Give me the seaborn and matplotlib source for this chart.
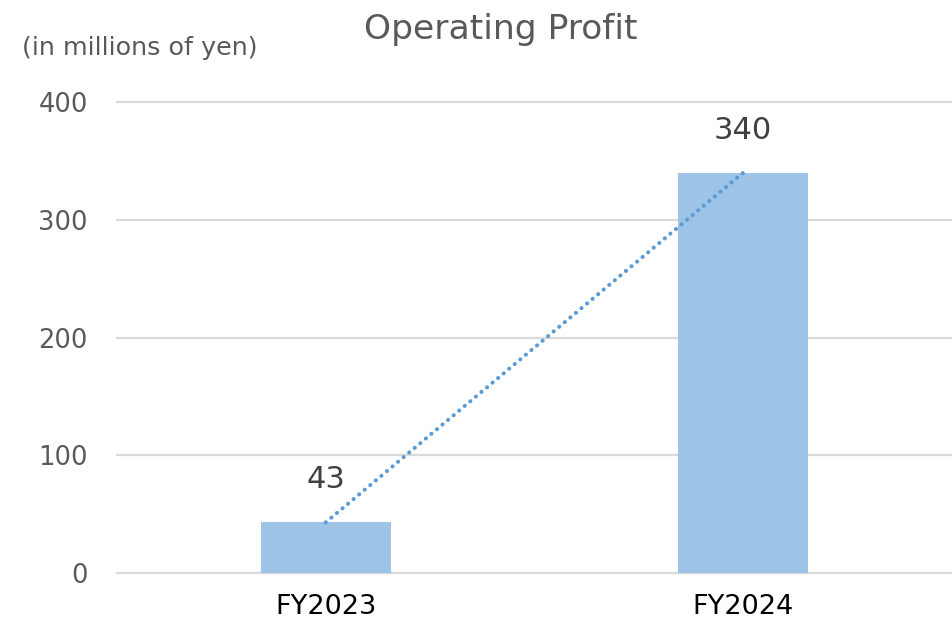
import matplotlib
matplotlib.use("Agg")
import matplotlib.pyplot as plt
import seaborn as sns
import pandas as pd

categories = ["FY2023", "FY2024"]
values = [43, 340]
yticks = [0, 100, 200, 300, 400]
title = "Operating Profit"
unit_label = "(in millions of yen)"

sns.set_theme(style="white")
plt.rcParams['font.family'] = ['DejaVu Sans']

df = pd.DataFrame({"cat": categories, "val": values})

W, H = 952, 618
fig = plt.figure(figsize=(W / 100, H / 100), dpi=100)
ax = fig.add_axes([117 / W, (H - 573) / H, (952 - 117) / W, (573 - 102) / H])

sns.barplot(data=df, x="cat", y="val", color="#9dc3e6", width=0.311,
            saturation=1, ax=ax, zorder=2, edgecolor="none", linewidth=0)
sns.lineplot(x=[0, 1], y=values, ax=ax, color="#5b9bd5", linewidth=2.9, zorder=3)
ln = ax.lines[-1]
ln.set_linestyle((0, (0.05, 1.75)))
ln.set_dash_capstyle("round")

ax.set_xlim(-0.5, 1.5)
ax.set_ylim(0, 400)
ax.set_yticks(yticks)
ax.set_yticklabels([str(t) for t in yticks], fontsize=18.5, color="#595959")
ax.tick_params(axis="y", length=0, pad=21)
ax.tick_params(axis="x", length=0, pad=15, labelsize=19.5, labelcolor="black")
ax.grid(axis="y", color="#d9d9d9", linewidth=1.6, zorder=0)
for gl in ax.get_ygridlines():
    gl.set_clip_on(False)
ax.set_axisbelow(True)
for s in ax.spines.values():
    s.set_visible(False)
ax.set_xlabel("")
ax.set_ylabel("")

for i, v in enumerate(values):
    ax.annotate(str(v), (i, v), xytext=(0, 24.5), textcoords="offset points",
                ha="center", va="baseline", fontsize=22, color="#404040")

fig.text(501 / W, 1 - 30 / H, title, ha="center", va="center", fontsize=24.8, color="#595959")
fig.text(22 / W, 1 - 48 / H, unit_label, ha="left", va="center", fontsize=18.3, color="#595959")

fig.savefig("out.png", dpi=100)
